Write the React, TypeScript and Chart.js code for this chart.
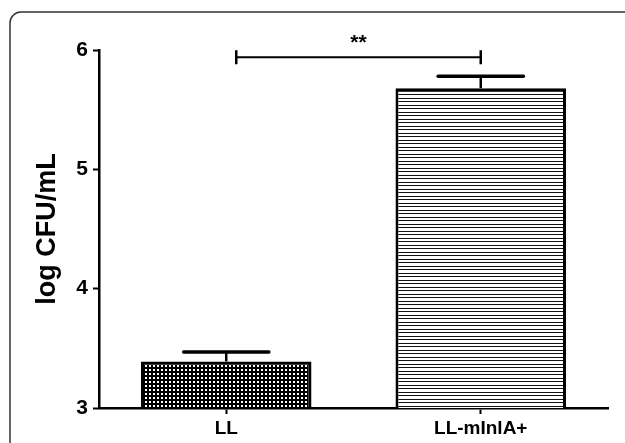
import React, { useEffect, useRef } from "react";
import { Chart, registerables } from "chart.js";

Chart.register(...registerables);

const categories = ["LL", "LL-mInlA+"];
const means = [3.39, 5.68];
const errors = [0.08, 0.1];
const yTicks = [3, 4, 5, 6];
const significanceLabel = "**";
const significanceLevel = 5.94;
const yTitle = "log CFU/mL";

function makeCheckPattern(): CanvasPattern | string {
  const c = document.createElement("canvas");
  c.width = 4;
  c.height = 4;
  const g = c.getContext("2d");
  if (!g) return "#333";
  g.fillStyle = "#000";
  g.fillRect(0, 0, 4, 4);
  g.fillStyle = "#fff";
  g.fillRect(1, 1, 2, 2);
  return g.createPattern(c, "repeat") || "#333";
}

function makeStripePattern(): CanvasPattern | string {
  const c = document.createElement("canvas");
  c.width = 8;
  c.height = 7;
  const g = c.getContext("2d");
  if (!g) return "#ccc";
  g.fillStyle = "#fff";
  g.fillRect(0, 0, 8, 7);
  g.fillStyle = "#111";
  g.fillRect(0, 0, 8, 1);
  g.fillRect(0, 3, 8, 1);
  return g.createPattern(c, "repeat") || "#ccc";
}

const framePlugin = {
  id: "frame",
  beforeDraw(chart: any) {
    const ctx = chart.ctx;
    ctx.save();
    ctx.fillStyle = "#fff";
    ctx.fillRect(0, 0, chart.width, chart.height);
    ctx.strokeStyle = "#333";
    ctx.lineWidth = 1.5;
    const x0 = 10, y0 = 12, r = 11;
    const x1 = chart.width + 20, y1 = chart.height + 20;
    ctx.beginPath();
    ctx.moveTo(x0, y1);
    ctx.lineTo(x0, y0 + r);
    ctx.arcTo(x0, y0, x0 + r, y0, r);
    ctx.lineTo(x1, y0);
    ctx.stroke();
    ctx.restore();
  },
};

const errorBarPlugin = {
  id: "errorBars",
  afterDatasetsDraw(chart: any) {
    const ctx = chart.ctx;
    const meta = chart.getDatasetMeta(0);
    const y = chart.scales.y;
    ctx.save();
    ctx.strokeStyle = "#000";
    meta.data.forEach((bar: any, i: number) => {
      const top = y.getPixelForValue(means[i]);
      const hi = y.getPixelForValue(means[i] + errors[i]);
      const half = bar.width / 4;
      ctx.lineWidth = 2.5;
      ctx.beginPath();
      ctx.moveTo(bar.x, top);
      ctx.lineTo(bar.x, hi);
      ctx.stroke();
      ctx.lineWidth = 3.5;
      ctx.lineCap = "round";
      ctx.beginPath();
      ctx.moveTo(bar.x - half, hi);
      ctx.lineTo(bar.x + half, hi);
      ctx.stroke();
      ctx.lineCap = "butt";
    });
    // significance bracket
    const x = chart.scales.x;
    const xa = x.getPixelForValue(0) + 10;
    const xb = x.getPixelForValue(1);
    const yb = y.getPixelForValue(significanceLevel);
    ctx.lineWidth = 2;
    ctx.beginPath();
    ctx.moveTo(xa, yb);
    ctx.lineTo(xb, yb);
    ctx.stroke();
    ctx.lineWidth = 2.5;
    ctx.beginPath();
    ctx.moveTo(xa, yb - 7);
    ctx.lineTo(xa, yb + 7);
    ctx.moveTo(xb, yb - 7);
    ctx.lineTo(xb, yb + 7);
    ctx.stroke();
    ctx.fillStyle = "#000";
    ctx.font = "bold 21px 'Liberation Sans', Arial, sans-serif";
    ctx.textAlign = "center";
    ctx.textBaseline = "middle";
    ctx.fillText(significanceLabel, (xa + xb) / 2, yb - 14);
    ctx.restore();
  },
};

export default function App() {
  const ref = useRef<HTMLCanvasElement>(null);
  useEffect(() => {
    if (!ref.current) return;
    const font = "'Liberation Sans', Arial, sans-serif";
    const chart = new Chart(ref.current, {
      type: "bar",
      data: {
        labels: categories,
        datasets: [
          {
            data: means,
            backgroundColor: [makeCheckPattern(), makeStripePattern()] as any,
            borderColor: "#000",
            borderWidth: 3,
            barPercentage: 0.67,
            categoryPercentage: 1,
          },
        ],
      },
      options: {
        responsive: false,
        animation: false,
        layout: { padding: { left: 27, top: 50, right: 17, bottom: 0 } },
        plugins: { legend: { display: false }, tooltip: { enabled: false } },
        scales: {
          x: {
            grid: {
              offset: false,
              drawOnChartArea: false,
              drawTicks: true,
              tickLength: 6,
              tickWidth: 2,
              tickColor: "#000",
            },
            border: { display: true, color: "#000", width: 2.5 },
            ticks: {
              color: "#000",
              font: { family: font, size: 19, weight: "bold" },
              padding: 3,
            },
            afterFit: (s: any) => {
              s.height = 35;
            },
          },
          y: {
            min: 3,
            max: 6,
            afterBuildTicks: (s: any) => {
              s.ticks = yTicks.map((v) => ({ value: v }));
            },
            grid: {
              drawOnChartArea: false,
              drawTicks: true,
              tickLength: 6,
              tickWidth: 2,
              tickColor: "#000",
            },
            border: { display: true, color: "#000", width: 2.5 },
            ticks: {
              color: "#000",
              font: { family: font, size: 21, weight: "bold" },
              padding: 5,
            },
            title: {
              display: true,
              text: yTitle,
              color: "#000",
              font: { family: font, size: 27, weight: "bold", lineHeight: 1.2 },
            },
            afterFit: (s: any) => {
              s.width = 72;
            },
          },
        },
      },
      plugins: [framePlugin, errorBarPlugin],
    });
    return () => chart.destroy();
  }, []);
  return (
    <div style={{ position: "absolute", left: 0, top: 0, width: 625, height: 443 }}>
      <canvas ref={ref} width={625} height={443} />
    </div>
  );
}
